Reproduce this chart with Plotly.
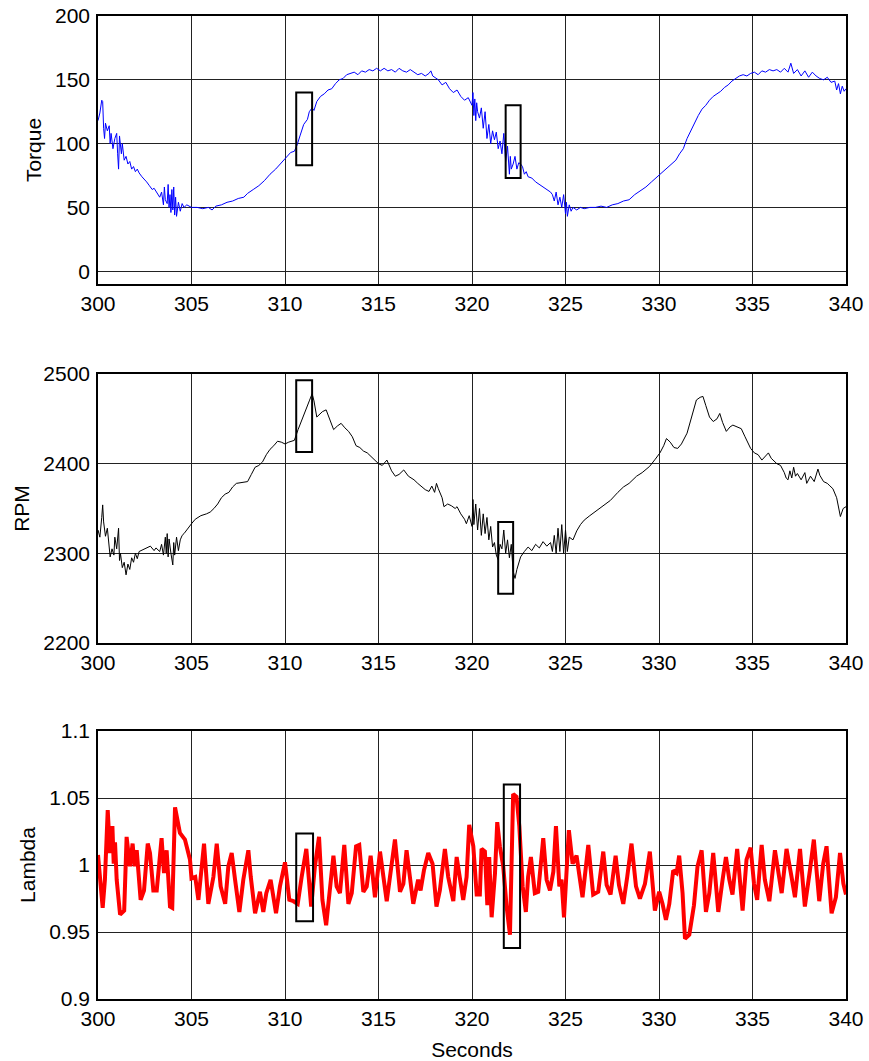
import plotly.graph_objects as go

# ---------------- data ----------------
torque_t = [300.0,300.1,300.2,300.25,300.3,300.35,300.4,300.5,300.6,300.65,300.7,300.8,300.9,301.0,301.05,301.1,301.15,301.25,301.3,301.4,301.5,301.6,301.7,301.8,301.9,302.0,302.1,302.2,302.35,302.5,302.6,302.75,302.9,303.0,303.15,303.3,303.4,303.5,303.55,303.6,303.7,303.75,303.8,303.85,303.9,303.95,304.0,304.05,304.1,304.15,304.2,304.3,304.4,304.5,304.6,304.75,305.0,305.3,305.6,305.9,306.1,306.3,306.6,306.9,307.2,307.5,307.8,308.0,308.3,308.6,308.9,309.2,309.5,309.8,310.0,310.3,310.5,310.65,310.8,311.0,311.2,311.3,311.45,311.55,311.7,311.9,312.1,312.3,312.5,312.7,312.9,313.1,313.3,313.5,313.7,313.9,314.1,314.3,314.5,314.7,314.9,315.1,315.3,315.5,315.7,315.9,316.1,316.3,316.5,316.7,316.9,317.1,317.3,317.5,317.7,317.8,317.9,318.0,318.2,318.4,318.6,318.8,319.0,319.2,319.4,319.6,319.8,320.0,320.05,320.1,320.15,320.2,320.25,320.3,320.4,320.5,320.6,320.7,320.8,320.9,321.0,321.1,321.2,321.3,321.4,321.5,321.6,321.7,321.8,321.9,322.0,322.05,322.1,322.2,322.3,322.4,322.5,322.6,322.7,322.8,322.9,323.0,323.2,323.4,323.6,323.8,324.0,324.2,324.3,324.4,324.5,324.6,324.7,324.8,324.9,325.0,325.05,325.1,325.2,325.3,325.4,325.6,325.8,326.0,326.3,326.6,326.9,327.2,327.5,327.8,328.1,328.4,328.7,329.0,329.3,329.6,329.9,330.1,330.3,330.6,330.9,331.1,331.3,331.5,331.7,331.9,332.1,332.3,332.5,332.7,332.9,333.1,333.3,333.5,333.7,333.9,334.1,334.3,334.5,334.7,334.9,335.1,335.3,335.5,335.7,335.9,336.1,336.3,336.5,336.7,336.9,337.05,337.2,337.4,337.6,337.8,338.0,338.2,338.4,338.6,338.8,339.0,339.2,339.4,339.5,339.6,339.7,339.8,339.9,340.0]
torque_v = [118,124,134,133,112,104,116,110,114,100,108,96,104,108,92,80,106,92,100,87,90,84,86,80,82,78,80,77,74,72,70,67,64,65,61,58,62,52,66,56,53,68,50,60,46,64,48,66,44,58,43,54,47,53,50,52,50,50,49,50,48,51,52,54,55,57,58,61,64,67,71,76,80,85,88,93,94,99,106,115,119,125,128,126,133,137,139,142,143,147,150,151,154,155,156,154,157,156,158,157,159,157,159,157,158,156,159,157,156,158,156,154,155,153,155,157,153,152,150,146,148,143,140,142,137,134,136,130,140,122,135,118,132,125,120,128,112,125,104,115,100,110,103,109,96,102,92,108,86,98,76,90,80,84,90,80,85,84,82,76,78,74,73,70,68,66,64,62,60,55,62,52,58,50,60,45,54,43,52,47,50,48,50,49,50,50,51,50,52,53,55,56,60,63,66,70,74,77,79,83,87,92,96,104,110,117,122,127,130,134,137,139,141,144,146,149,151,153,154,153,155,156,154,157,156,158,157,158,156,159,156,163,155,158,153,157,152,156,153,151,150,152,148,149,142,147,139,145,141,143]

rpm_t = [300.0,300.1,300.2,300.25,300.3,300.4,300.5,300.6,300.65,300.75,300.85,300.9,301.0,301.1,301.15,301.2,301.3,301.4,301.5,301.6,301.7,301.8,301.9,302.0,302.1,302.2,302.4,302.6,302.8,303.0,303.1,303.3,303.4,303.5,303.6,303.65,303.7,303.75,303.8,303.9,304.0,304.05,304.1,304.2,304.3,304.4,304.5,304.6,304.8,305.0,305.2,305.5,305.8,306.0,306.2,306.4,306.6,306.8,307.0,307.2,307.4,307.7,308.0,308.2,308.4,308.6,308.8,309.0,309.2,309.4,309.6,309.8,310.0,310.2,310.5,310.7,310.9,311.0,311.2,311.3,311.45,311.55,311.7,311.85,312.0,312.2,312.4,312.6,312.8,313.0,313.2,313.4,313.6,313.8,314.0,314.2,314.4,314.6,314.8,315.0,315.2,315.45,315.7,315.9,316.1,316.35,316.6,316.9,317.1,317.3,317.5,317.7,317.85,318.0,318.1,318.2,318.4,318.5,318.7,318.9,319.1,319.2,319.4,319.6,319.7,319.85,320.0,320.05,320.1,320.2,320.3,320.4,320.5,320.6,320.7,320.8,320.9,321.0,321.1,321.2,321.3,321.4,321.5,321.6,321.7,321.8,321.9,322.0,322.1,322.2,322.3,322.4,322.5,322.6,322.8,323.0,323.2,323.4,323.6,323.8,324.0,324.2,324.3,324.4,324.5,324.6,324.7,324.8,324.9,325.0,325.1,325.2,325.4,325.6,325.8,326.0,326.3,326.7,327.0,327.4,327.8,328.1,328.4,328.8,329.1,329.5,329.8,330.05,330.25,330.4,330.6,330.8,331.0,331.2,331.5,331.7,331.85,332.0,332.2,332.35,332.5,332.7,332.9,333.1,333.25,333.4,333.6,333.8,333.95,334.2,334.4,334.6,334.9,335.1,335.3,335.5,335.7,335.85,336.0,336.3,336.5,336.7,336.8,336.9,337.0,337.1,337.2,337.3,337.4,337.6,337.8,337.9,338.1,338.3,338.5,338.6,338.8,339.0,339.1,339.3,339.5,339.6,339.7,339.85,340.0]
rpm_v = [2326,2318,2340,2354,2335,2319,2328,2300,2296,2305,2298,2318,2305,2328,2292,2300,2284,2290,2276,2288,2282,2295,2290,2300,2294,2302,2304,2306,2308,2303,2306,2302,2310,2298,2318,2300,2322,2296,2316,2300,2287,2312,2298,2318,2303,2315,2320,2322,2328,2333,2338,2342,2344,2346,2350,2355,2362,2366,2368,2374,2378,2379,2380,2388,2396,2398,2402,2410,2416,2420,2425,2424,2422,2424,2426,2438,2448,2455,2465,2470,2478,2470,2452,2455,2458,2460,2448,2438,2442,2445,2440,2436,2430,2420,2418,2414,2412,2408,2403,2400,2398,2404,2392,2386,2388,2393,2386,2382,2378,2374,2371,2369,2375,2368,2378,2372,2362,2352,2355,2353,2350,2352,2344,2338,2333,2342,2330,2360,2332,2355,2326,2350,2320,2344,2322,2340,2315,2330,2307,2312,2298,2293,2310,2305,2326,2300,2315,2295,2310,2280,2272,2282,2290,2296,2302,2307,2303,2310,2306,2313,2308,2312,2302,2320,2300,2328,2302,2332,2300,2326,2302,2318,2315,2325,2332,2337,2342,2348,2352,2359,2368,2374,2378,2386,2390,2397,2405,2412,2420,2428,2424,2418,2417,2422,2434,2448,2460,2471,2474,2475,2465,2452,2447,2450,2456,2446,2436,2441,2443,2441,2439,2430,2417,2412,2410,2404,2408,2412,2406,2400,2398,2390,2384,2382,2392,2384,2396,2386,2389,2382,2390,2378,2386,2380,2394,2387,2380,2378,2376,2372,2362,2350,2341,2350,2352]

lambda_t = [300.0,300.25,300.37,300.52,300.64,300.77,300.84,300.91,301.0,301.18,301.4,301.53,301.71,301.85,301.96,302.07,302.28,302.46,302.66,302.78,302.96,303.14,303.4,303.53,303.67,303.85,303.97,304.12,304.38,304.65,304.92,305.0,305.2,305.37,305.67,305.9,306.17,306.35,306.56,306.8,306.97,307.15,307.33,307.56,307.77,308.04,308.17,308.4,308.66,308.84,309.0,309.23,309.52,309.73,310.0,310.23,310.45,310.68,310.89,311.01,311.14,311.4,311.6,311.82,312.0,312.2,312.38,312.59,312.76,312.94,313.17,313.39,313.57,313.8,313.97,314.19,314.37,314.58,314.81,315.08,315.44,315.65,315.88,316.15,316.33,316.5,316.86,317.12,317.25,317.43,317.66,317.89,318.1,318.28,318.55,318.73,319.0,319.18,319.32,319.53,319.71,319.85,320.07,320.25,320.42,320.51,320.69,320.82,320.92,321.05,321.23,321.35,321.49,321.67,321.85,322.03,322.2,322.38,322.53,322.71,322.88,323.0,323.15,323.36,323.54,323.81,323.99,324.17,324.35,324.49,324.67,324.79,324.92,325.06,325.18,325.38,325.59,325.91,326.22,326.48,326.75,327.02,327.2,327.41,327.68,327.86,328.09,328.3,328.53,328.77,328.98,329.25,329.51,329.78,330.01,330.19,330.37,330.55,330.76,330.94,331.08,331.26,331.39,331.62,331.87,332.06,332.28,332.51,332.69,332.9,333.17,333.4,333.58,333.76,333.93,334.18,334.47,334.68,334.9,335.08,335.25,335.49,335.66,335.9,336.2,336.56,336.82,337.09,337.27,337.54,337.8,338.07,338.28,338.57,338.78,338.96,339.23,339.46,339.68,339.86,340.0]
lambda_v = [1.0075,0.968,0.989,1.041,1.009,1.029,1.001,1.017,0.989,0.963,0.966,1.021,0.999,1.016,0.999,1.011,0.974,0.981,1.016,1.009,0.981,0.981,1.020,0.994,1.011,0.969,0.968,1.043,1.024,1.019,1.004,0.990,0.991,0.974,1.016,0.971,0.991,1.016,0.984,0.971,0.999,1.009,0.989,0.965,0.989,1.011,0.991,0.964,0.980,0.965,0.979,0.989,0.964,0.984,1.002,0.974,0.973,0.971,0.991,1.001,1.012,0.969,0.999,1.021,0.974,0.955,0.981,1.007,0.984,0.979,1.015,0.971,0.979,1.014,1.015,0.980,0.984,1.007,0.976,1.010,0.973,0.993,1.019,0.980,0.986,1.011,0.971,0.989,0.981,0.996,1.009,1.001,0.969,0.981,1.012,0.991,0.973,1.006,0.991,0.974,0.991,1.030,1.014,0.978,0.978,1.012,1.010,0.970,1.006,0.961,0.994,1.032,1.014,0.999,0.969,0.948,1.053,1.051,1.029,0.984,0.965,0.991,1.006,0.979,0.980,1.020,0.989,0.981,0.995,1.029,0.984,0.989,0.961,1.001,1.026,1.001,1.007,0.976,1.015,0.978,0.980,1.010,0.985,0.978,1.007,0.985,0.971,0.991,1.016,0.984,0.975,0.986,1.010,0.966,0.980,0.971,0.959,0.971,0.996,0.994,1.007,0.979,0.945,0.948,0.970,0.999,1.011,0.965,0.979,1.009,0.965,0.989,1.006,0.989,0.978,1.012,0.966,1.004,1.013,0.986,0.974,1.015,0.989,0.973,1.011,0.979,1.012,0.991,0.976,1.012,0.969,0.996,1.019,0.973,1.001,1.014,0.964,0.976,1.009,0.986,0.978]

# highlight boxes: [x0, x1, y0, y1]
torque_boxes = [[310.6, 311.45, 83, 140], [321.8, 322.6, 73, 130]]
rpm_boxes = [[310.6, 311.45, 2413, 2493], [321.4, 322.2, 2255, 2335]]
lambda_boxes = [[310.6, 311.5, 0.958, 1.0235], [321.7, 322.57, 0.938, 1.060]]

x_ticks = [300, 305, 310, 315, 320, 325, 330, 335, 340]
torque_ticks = [0, 50, 100, 150, 200]
rpm_ticks = [2200, 2300, 2400, 2500]
lambda_ticks = [0.9, 0.95, 1, 1.05, 1.1]
lambda_ticktext = ["0.9", "0.95", "1", "1.05", "1.1"]

# ---------------- figure ----------------
FONT = "Liberation Sans, Arial, sans-serif"
FS = 21
fig = go.Figure()
fig.add_trace(go.Scatter(x=torque_t, y=torque_v, mode="lines",
                         line=dict(color="#0000FF", width=1), xaxis="x", yaxis="y"))
fig.add_trace(go.Scatter(x=rpm_t, y=rpm_v, mode="lines",
                         line=dict(color="#000000", width=1), xaxis="x2", yaxis="y2"))
fig.add_trace(go.Scatter(x=lambda_t, y=lambda_v, mode="lines",
                         line=dict(color="#FF0000", width=4), xaxis="x3", yaxis="y3"))

for boxes, xr, yr in [(torque_boxes, "x", "y"), (rpm_boxes, "x2", "y2"), (lambda_boxes, "x3", "y3")]:
    for b in boxes:
        fig.add_shape(type="rect", xref=xr, yref=yr, x0=b[0], x1=b[1], y0=b[2], y1=b[3],
                      line=dict(color="black", width=2), fillcolor="rgba(0,0,0,0)")

ax_common = dict(showline=True, linecolor="black", linewidth=1.5, mirror=True,
                 showgrid=True, gridcolor="#222222", gridwidth=1, zeroline=False,
                 automargin=False,
                 ticks="", tickfont=dict(family=FONT, size=FS, color="black"))

xcommon = dict(ax_common, range=[300, 340], tickvals=x_ticks, ticklabelstandoff=0)
fig.update_layout(
    width=869, height=1061,
    paper_bgcolor="white", plot_bgcolor="white",
    showlegend=False,
    margin=dict(l=98, r=23, t=16, b=62, autoexpand=False),
    font=dict(family=FONT, size=FS, color="black"),
    xaxis=dict(xcommon, anchor="y", domain=[0, 1]),
    xaxis2=dict(xcommon, anchor="y2", domain=[0, 1]),
    xaxis3=dict(xcommon, anchor="y3", domain=[0, 1],
                title=dict(text="Seconds", font=dict(family=FONT, size=FS), standoff=14)),
    yaxis=dict(ax_common, anchor="x", domain=[0.7274, 1.0], range=[-10, 200],
               tickvals=torque_ticks, ticklabelstandoff=2,
               title=dict(text="Torque", font=dict(family=FONT, size=FS), standoff=8)),
    yaxis2=dict(ax_common, anchor="x2", domain=[0.3622, 0.6358], range=[2200, 2500],
                tickvals=rpm_ticks, ticklabelstandoff=2,
                title=dict(text="RPM", font=dict(family=FONT, size=FS), standoff=8)),
    yaxis3=dict(ax_common, anchor="x3", domain=[0.0, 0.2726], range=[0.9, 1.1],
                tickvals=lambda_ticks, ticktext=lambda_ticktext, ticklabelstandoff=2,
                title=dict(text="Lambda", font=dict(family=FONT, size=FS), standoff=8)),
)

fig.write_html("out.html", config={"displayModeBar": False},
               post_script="document.body.style.margin='0';document.body.style.padding='0';")
